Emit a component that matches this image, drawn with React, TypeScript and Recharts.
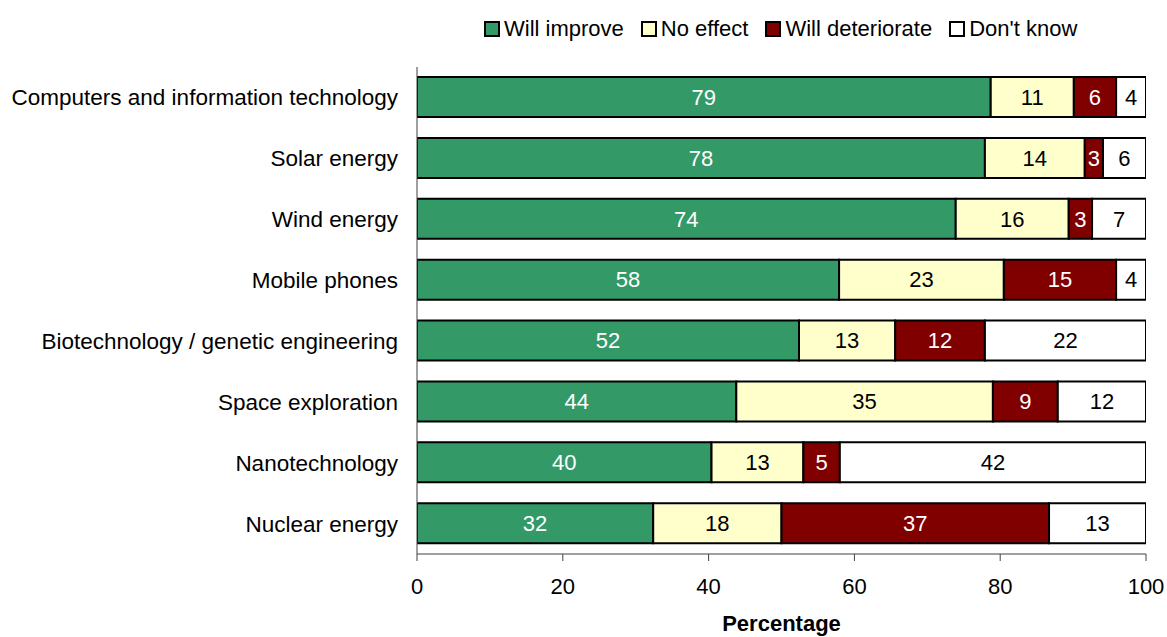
import { BarChart, Bar, XAxis, YAxis, LabelList } from "recharts";

const categories = [
  "Computers and information technology",
  "Solar energy",
  "Wind energy",
  "Mobile phones",
  "Biotechnology / genetic engineering",
  "Space exploration",
  "Nanotechnology",
  "Nuclear energy",
];

const willImprove = [78.7, 77.9, 73.9, 57.9, 52.4, 43.8, 40.4, 32.4];
const noEffect = [11.4, 13.7, 15.5, 22.6, 13.2, 35.2, 12.6, 17.6];
const willDeteriorate = [5.8, 2.5, 3.2, 15.4, 12.3, 8.9, 5.0, 36.7];
const dontKnow = [4.1, 5.9, 7.4, 4.1, 22.1, 12.1, 42.0, 13.3];

const xTicks = [0, 20, 40, 60, 80, 100];

const series = [
  { key: "improve", name: "Will improve", color: "#339966", text: "#ffffff" },
  { key: "none", name: "No effect", color: "#ffffcc", text: "#000000" },
  { key: "worse", name: "Will deteriorate", color: "#800000", text: "#ffffff" },
  { key: "unknown", name: "Don't know", color: "#ffffff", text: "#000000" },
];

const data = categories.map((name, i) => ({
  name,
  improve: willImprove[i],
  none: noEffect[i],
  worse: willDeteriorate[i],
  unknown: dontKnow[i],
}));

const FONT = "Arial, 'Liberation Sans', sans-serif";

function ChartLegend() {
  return (
    <div
      style={{
        position: "absolute",
        left: 484,
        top: 16,
        height: 25,
        display: "flex",
        alignItems: "center",
        gap: 17,
        fontFamily: FONT,
        fontSize: 22,
        lineHeight: "25px",
        whiteSpace: "nowrap",
      }}
    >
      {series.map((s) => (
        <div key={s.key} style={{ display: "flex", alignItems: "center", gap: 4 }}>
          <span
            style={{
              display: "inline-block",
              width: 16,
              height: 16,
              boxSizing: "border-box",
              border: "2px solid #000",
              background: s.color,
            }}
          />
          <span>{s.name}</span>
        </div>
      ))}
    </div>
  );
}

export default function App() {
  return (
    <div
      style={{
        position: "absolute",
        left: 0,
        top: 0,
        width: 1167,
        height: 637,
        background: "#fff",
        fontFamily: FONT,
      }}
    >
      <ChartLegend />
      <BarChart
        width={1167}
        height={637}
        data={data}
        layout="vertical"
        margin={{ top: 67, right: 21, left: 0, bottom: 0 }}
        barSize={40}
      >
        <XAxis
          type="number"
          domain={[0, 100]}
          ticks={xTicks}
          allowDataOverflow
          height={83}
          tickSize={7}
          tickMargin={17}
          stroke="#404040"
          tick={{ fill: "#000", fontSize: 22, fontFamily: FONT }}
          label={{
            value: "Percentage",
            position: "insideBottom",
            offset: 6,
            style: { fill: "#000", fontSize: 22, fontWeight: "bold", fontFamily: FONT },
          }}
        />
        <YAxis
          type="category"
          dataKey="name"
          width={417}
          tickLine={false}
          tickSize={0}
          tickMargin={19}
          stroke="#404040"
          interval={0}
          tick={{ fill: "#000", fontSize: 22.5, fontFamily: FONT }}
        />
        {series.map((s) => (
          <Bar
            key={s.key}
            dataKey={s.key}
            name={s.name}
            stackId="a"
            fill={s.color}
            stroke="#000"
            strokeWidth={2}
            isAnimationActive={false}
          >
            <LabelList
              dataKey={s.key}
              position="center"
              formatter={(v: any) => Math.round(Number(v))}
              fill={s.text}
              style={{ fontSize: 22, fontFamily: FONT }}
            />
          </Bar>
        ))}
      </BarChart>
    </div>
  );
}
